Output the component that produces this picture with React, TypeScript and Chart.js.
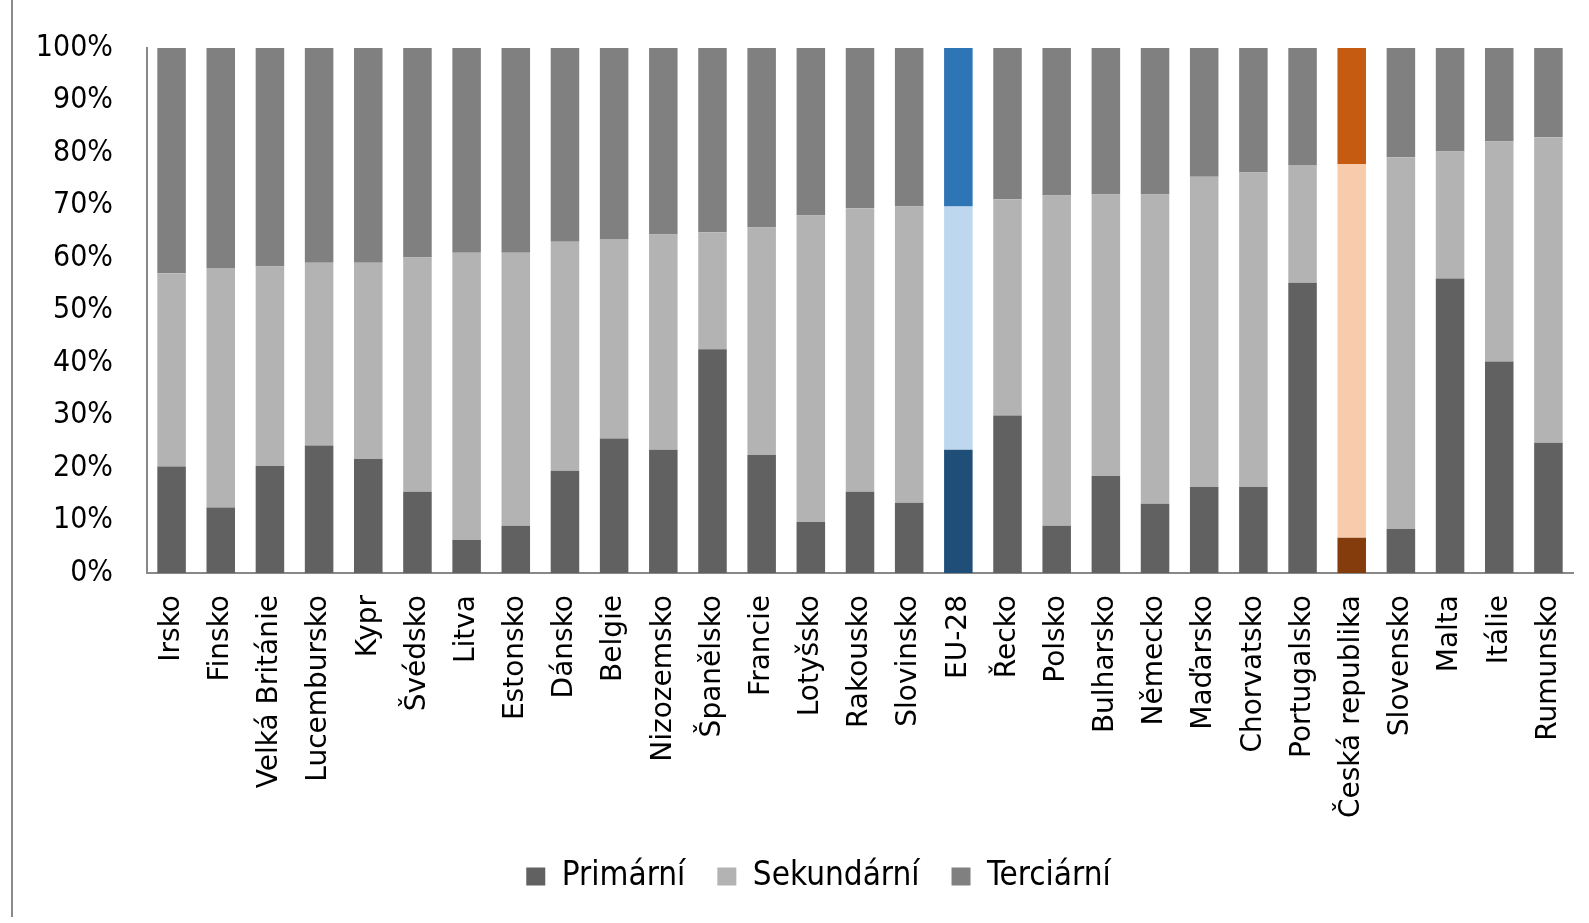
import React, { useEffect, useRef } from "react";
import { Chart, registerables } from "chart.js";

Chart.register(...registerables);

const categories = [
  "Irsko", "Finsko", "Velká Británie", "Lucembursko", "Kypr", "Švédsko", "Litva",
  "Estonsko", "Dánsko", "Belgie", "Nizozemsko", "Španělsko", "Francie", "Lotyšsko",
  "Rakousko", "Slovinsko", "EU-28", "Řecko", "Polsko", "Bulharsko", "Německo",
  "Maďarsko", "Chorvatsko", "Portugalsko", "Česká republika", "Slovensko", "Malta",
  "Itálie", "Rumunsko",
];

const primary = [
  20.3, 12.5, 20.4, 24.3, 21.7, 15.5, 6.3, 9.0, 19.5, 25.6, 23.5, 42.6, 22.5, 9.7,
  15.5, 13.4, 23.5, 30.0, 9.0, 18.5, 13.2, 16.4, 16.4, 55.3, 6.7, 8.4, 56.1, 40.3, 24.8,
];

const secondary = [
  36.8, 45.6, 38.0, 34.8, 37.4, 44.6, 54.7, 52.0, 43.6, 38.0, 41.0, 22.3, 43.3, 58.4,
  54.0, 56.4, 46.3, 41.2, 62.9, 53.6, 58.9, 59.1, 59.9, 22.4, 71.2, 70.8, 24.2, 41.9, 58.2,
];

const tertiary = [
  42.9, 41.9, 41.6, 40.9, 40.9, 39.9, 39.0, 39.0, 36.9, 36.4, 35.5, 35.1, 34.2, 31.9,
  30.5, 30.2, 30.2, 28.8, 28.1, 27.9, 27.9, 24.5, 23.7, 22.3, 22.1, 20.8, 19.7, 17.8, 17.0,
];

const yTicks = [0, 10, 20, 30, 40, 50, 60, 70, 80, 90, 100];

const seriesNames = ["Primární", "Sekundární", "Terciární"];
const greyColors = ["#616161", "#b3b3b3", "#808080"];
const euColors = ["#1f4e79", "#bdd7ee", "#2e75b6"];
const czColors = ["#843c0c", "#f8cbad", "#c55a11"];

const narrowFont = "'Liberation Sans Narrow', 'DejaVu Sans Condensed', 'Liberation Sans', sans-serif";

function colorsFor(idx: number) {
  return categories.map((c) =>
    c === "EU-28" ? euColors[idx] : c === "Česká republika" ? czColors[idx] : greyColors[idx]
  );
}

const shiftLegend = {
  id: "shiftLegend",
  afterLayout(chart: any) {
    const l = chart.legend;
    if (l) {
      l.left += 32;
      l.right += 32;
    }
  },
};

export default function App() {
  const ref = useRef<HTMLCanvasElement | null>(null);

  useEffect(() => {
    if (!ref.current) return;
    const values = [primary, secondary, tertiary];
    const chart = new Chart(ref.current, {
      type: "bar",
      plugins: [shiftLegend],
      data: {
        labels: categories,
        datasets: values.map((v, i) => ({
          label: seriesNames[i],
          data: v,
          backgroundColor: colorsFor(i),
          borderWidth: 0,
          barPercentage: 0.58,
          categoryPercentage: 1,
        })),
      },
      options: {
        responsive: false,
        animation: false,
        maintainAspectRatio: false,
        layout: { padding: { top: 48, right: 16, bottom: 20, left: 0 } },
        plugins: {
          tooltip: { enabled: false },
          legend: {
            position: "bottom",
            labels: {
              color: "#000",
              font: { family: narrowFont, size: 33 },
              boxWidth: 19,
              boxHeight: 18,
              padding: 32,
              generateLabels: () =>
                seriesNames.map((n, i) => ({
                  text: n,
                  fillStyle: greyColors[i],
                  strokeStyle: greyColors[i],
                  lineWidth: 0,
                  hidden: false,
                  datasetIndex: i,
                  fontColor: "#000",
                })),
            },
          },
        },
        scales: {
          x: {
            stacked: true,
            grid: { display: false, drawTicks: false },
            border: { display: true, color: "#888888", width: 2 },
            ticks: {
              color: "#000",
              font: { family: "'DejaVu Sans', sans-serif", size: 28 },
              minRotation: 90,
              maxRotation: 90,
              autoSkip: false,
              padding: 22,
            },
            afterFit: (s: any) => {
              s.height = 255;
              s.paddingLeft = 0;
              s.paddingRight = 0;
            },
          },
          y: {
            stacked: true,
            min: 0,
            max: 100,
            afterBuildTicks: (s: any) => {
              s.ticks = yTicks.map((v) => ({ value: v }));
            },
            grid: { display: false, drawTicks: false },
            border: { display: true, color: "#888888", width: 2 },
            ticks: {
              color: "#000",
              font: { family: narrowFont, size: 30 },
              padding: 34,
              callback: (v: any) => v + "%",
            },
            afterFit: (s: any) => {
              s.width = 147;
              s.paddingTop = 0;
              s.paddingBottom = 0;
            },
          },
        },
      },
    });
    return () => chart.destroy();
  }, []);

  return (
    <div style={{ position: "absolute", left: 0, top: 0, width: 1589, height: 923, background: "#fff" }}>
      <div style={{ position: "absolute", left: 11, top: 0, width: 2, height: 917, background: "#8a8a8a" }} />
      <canvas ref={ref} width={1589} height={923} style={{ position: "absolute", left: 0, top: 0 }} />
    </div>
  );
}
